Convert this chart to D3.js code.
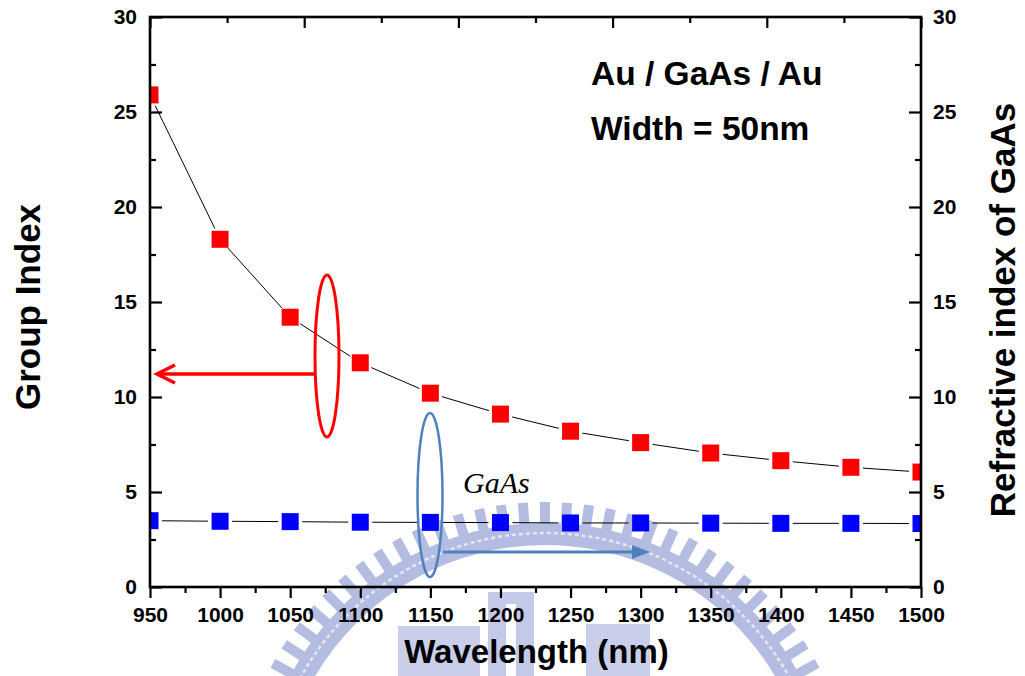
<!DOCTYPE html>
<html>
<head>
<meta charset="utf-8">
<script src="https://cdn.jsdelivr.net/npm/d3@7"></script>
<style>
  html, body { margin: 0; padding: 0; background: #fff; }
  svg { display: block; }
</style>
</head>
<body>
<svg id="chart" width="1025" height="676"></svg>
<script>
// Wavelength sweep (nm)
const wavelength = [950, 1000, 1050, 1100, 1150, 1200, 1250, 1300, 1350, 1400, 1450, 1500];
// Group index of the Au / GaAs / Au waveguide (left axis)
const groupIndex = [25.9, 18.3, 14.2, 11.8, 10.2, 9.1, 8.2, 7.6, 7.05, 6.65, 6.3, 6.05];
// Refractive index of bulk GaAs (right axis)
const gaasIndex = [3.49, 3.46, 3.44, 3.41, 3.40, 3.39, 3.37, 3.37, 3.36, 3.35, 3.35, 3.34];

const xTickValues = [950, 1000, 1050, 1100, 1150, 1200, 1250, 1300, 1350, 1400, 1450, 1500];
const xMinorTicks = [975, 1025, 1075, 1125, 1175, 1225, 1275, 1325, 1375, 1425, 1475];
const yTickValues = [0, 5, 10, 15, 20, 25, 30];
const yMinorTicks = [2.5, 7.5, 12.5, 17.5, 22.5, 27.5];

const titleLines = ["Au / GaAs / Au", "Width = 50nm"];

const SANS = "'Liberation Sans', Arial, sans-serif";
const SERIF = "'Liberation Serif', 'Times New Roman', serif";

const svg = d3.select("#chart").style("font-family", SANS);
const plot = { left: 150, right: 921, top: 17, bottom: 587 };

const x = d3.scaleLinear().domain([950, 1500]).range([plot.left, plot.right]);
const yL = d3.scaleLinear().domain([0, 30]).range([plot.bottom, plot.top]);
const yR = d3.scaleLinear().domain([0, 30]).range([plot.bottom, plot.top]);
// top frame carries its own unlabeled tick scale
const xTop = d3.scaleLinear().domain([0, 10]).range([plot.left, plot.right]);

// ---- faint emblem behind the plot ----
const emblemFill = "#b4bce1";
const emblem = svg.append("g").attr("fill", emblemFill);
const ec = { x: 545, y: 812 };
const nTeeth = 88;
for (let i = 0; i < nTeeth; i++) {
  const a = (i / nTeeth) * 360;
  emblem.append("rect")
    .attr("x", -5).attr("y", -310).attr("width", 10).attr("height", 26)
    .attr("transform", `translate(${ec.x},${ec.y}) rotate(${a})`);
}
emblem.append("circle").attr("cx", ec.x).attr("cy", ec.y).attr("r", 278)
  .attr("fill", "none").attr("stroke", emblemFill).attr("stroke-width", 22);
emblem.append("circle").attr("cx", ec.x).attr("cy", ec.y).attr("r", 279)
  .attr("fill", "none").attr("stroke", "#e4e7f4").attr("stroke-width", 2.5)
  .attr("stroke-dasharray", "4 3");
emblem.append("rect").attr("x", 488).attr("y", 592).attr("width", 46).attr("height", 84).attr("fill", "#c3c9e8");
emblem.append("rect").attr("x", 398).attr("y", 626).attr("width", 82).attr("height", 50).attr("fill", "#c9cfea");
emblem.append("rect").attr("x", 586).attr("y", 624).attr("width", 64).attr("height", 52).attr("fill", "#c9cfea");
emblem.append("rect").attr("x", 506).attr("y", 604).attr("width", 10).attr("height", 72).attr("fill", "#ffffff");

// ---- clip for data marks ----
svg.append("clipPath").attr("id", "plotClip").append("rect")
  .attr("x", plot.left).attr("y", plot.top)
  .attr("width", plot.right - plot.left).attr("height", plot.bottom - plot.top);

const data = svg.append("g").attr("clip-path", "url(#plotClip)");

// connecting line with gaps around each marker
function gappedSegments(g, xs, ys, yScale, gap) {
  for (let i = 0; i < xs.length - 1; i++) {
    const x1 = x(xs[i]), y1 = yScale(ys[i]);
    const x2 = x(xs[i + 1]), y2 = yScale(ys[i + 1]);
    const d = Math.hypot(x2 - x1, y2 - y1);
    if (d <= 2 * gap) continue;
    const ux = (x2 - x1) / d, uy = (y2 - y1) / d;
    g.append("line")
      .attr("x1", x1 + ux * gap).attr("y1", y1 + uy * gap)
      .attr("x2", x2 - ux * gap).attr("y2", y2 - uy * gap)
      .attr("stroke", "#000").attr("stroke-width", 1);
  }
}
gappedSegments(data, wavelength, groupIndex, yL, 12);
gappedSegments(data, wavelength, gaasIndex, yR, 12);

const ms = 17;
data.selectAll("rect.gi").data(wavelength).join("rect")
  .attr("class", "gi")
  .attr("x", (d) => x(d) - ms / 2)
  .attr("y", (d, i) => yL(groupIndex[i]) - ms / 2)
  .attr("width", ms).attr("height", ms)
  .attr("fill", "#ff0000");
data.selectAll("rect.ri").data(wavelength).join("rect")
  .attr("class", "ri")
  .attr("x", (d) => x(d) - ms / 2)
  .attr("y", (d, i) => yR(gaasIndex[i]) - ms / 2)
  .attr("width", ms).attr("height", ms)
  .attr("fill", "#0000ff");

// ---- axes ----
const tickFont = (sel) => sel.selectAll("text")
  .attr("font-size", 21).attr("font-weight", "bold").attr("fill", "#000")
  .style("font-family", SANS);

const axB = svg.append("g").attr("transform", `translate(0,${plot.bottom})`)
  .call(d3.axisBottom(x).tickValues(xTickValues).tickSize(11).tickPadding(9).tickFormat(d3.format("d")));
axB.call(tickFont);
svg.append("g").attr("transform", `translate(0,${plot.bottom})`)
  .call(d3.axisBottom(x).tickValues(xMinorTicks).tickSize(6).tickFormat(""));

const axL = svg.append("g").attr("transform", `translate(${plot.left},0)`)
  .call(d3.axisLeft(yL).tickValues(yTickValues).tickSize(-12).tickPadding(13).tickFormat(d3.format("d")));
axL.call(tickFont);
svg.append("g").attr("transform", `translate(${plot.left},0)`)
  .call(d3.axisLeft(yL).tickValues(yMinorTicks).tickSize(-6).tickFormat(""));

const axR = svg.append("g").attr("transform", `translate(${plot.right},0)`)
  .call(d3.axisRight(yR).tickValues(yTickValues).tickSize(-12).tickPadding(12).tickFormat(d3.format("d")));
axR.call(tickFont);
svg.append("g").attr("transform", `translate(${plot.right},0)`)
  .call(d3.axisRight(yR).tickValues(yMinorTicks).tickSize(-6).tickFormat(""));

svg.append("g").attr("transform", `translate(0,${plot.top})`)
  .call(d3.axisTop(xTop).tickValues(d3.range(0, 11, 2)).tickSize(-11).tickFormat(""));
svg.append("g").attr("transform", `translate(0,${plot.top})`)
  .call(d3.axisTop(xTop).tickValues(d3.range(1, 10, 2)).tickSize(-6).tickFormat(""));

svg.selectAll(".domain").remove();
svg.selectAll(".tick line").attr("stroke", "#000").attr("stroke-width", 2.2);

svg.append("rect")
  .attr("x", plot.left).attr("y", plot.top)
  .attr("width", plot.right - plot.left).attr("height", plot.bottom - plot.top)
  .attr("fill", "none").attr("stroke", "#000").attr("stroke-width", 2.6);

// ---- axis titles ----
svg.append("text")
  .attr("x", (plot.left + plot.right) / 2 + 1).attr("y", 663)
  .attr("text-anchor", "middle").attr("font-size", 33).attr("font-weight", "bold")
  .text("Wavelength (nm)");
svg.append("text")
  .attr("transform", "translate(40,307) rotate(-90)")
  .attr("text-anchor", "middle").attr("font-size", 35).attr("font-weight", "bold")
  .text("Group Index");
svg.append("text")
  .attr("transform", "translate(1015,310) rotate(-90)")
  .attr("text-anchor", "middle").attr("font-size", 35).attr("font-weight", "bold")
  .text("Refractive index of GaAs");

// ---- inset title ----
svg.selectAll("text.inset").data(titleLines).join("text")
  .attr("class", "inset")
  .attr("x", 591).attr("y", (d, i) => 85 + i * 55)
  .attr("font-size", 33.5).attr("font-weight", "bold")
  .text((d) => d);

// ---- annotations ----
const red = "#ff0000", steel = "#4f81bd";
svg.append("ellipse").attr("cx", 327).attr("cy", 356).attr("rx", 12).attr("ry", 81)
  .attr("fill", "none").attr("stroke", red).attr("stroke-width", 3);
svg.append("line").attr("x1", 315).attr("y1", 374).attr("x2", 158).attr("y2", 374)
  .attr("stroke", red).attr("stroke-width", 3.5);
svg.append("polyline").attr("points", "175,365 157,374 175,383")
  .attr("fill", "none").attr("stroke", red).attr("stroke-width", 3.5)
  .attr("stroke-linejoin", "miter");

svg.append("ellipse").attr("cx", 430).attr("cy", 495).attr("rx", 12.5).attr("ry", 82)
  .attr("fill", "none").attr("stroke", steel).attr("stroke-width", 2.5);
svg.append("line").attr("x1", 443).attr("y1", 552).attr("x2", 636).attr("y2", 552)
  .attr("stroke", steel).attr("stroke-width", 3);
svg.append("polygon").attr("points", "632,545 650,552 632,559").attr("fill", steel);

svg.append("text")
  .attr("x", 463).attr("y", 493)
  .style("font-family", SERIF)
  .attr("font-style", "italic").attr("font-size", 30)
  .text("GaAs");
</script>
</body>
</html>
